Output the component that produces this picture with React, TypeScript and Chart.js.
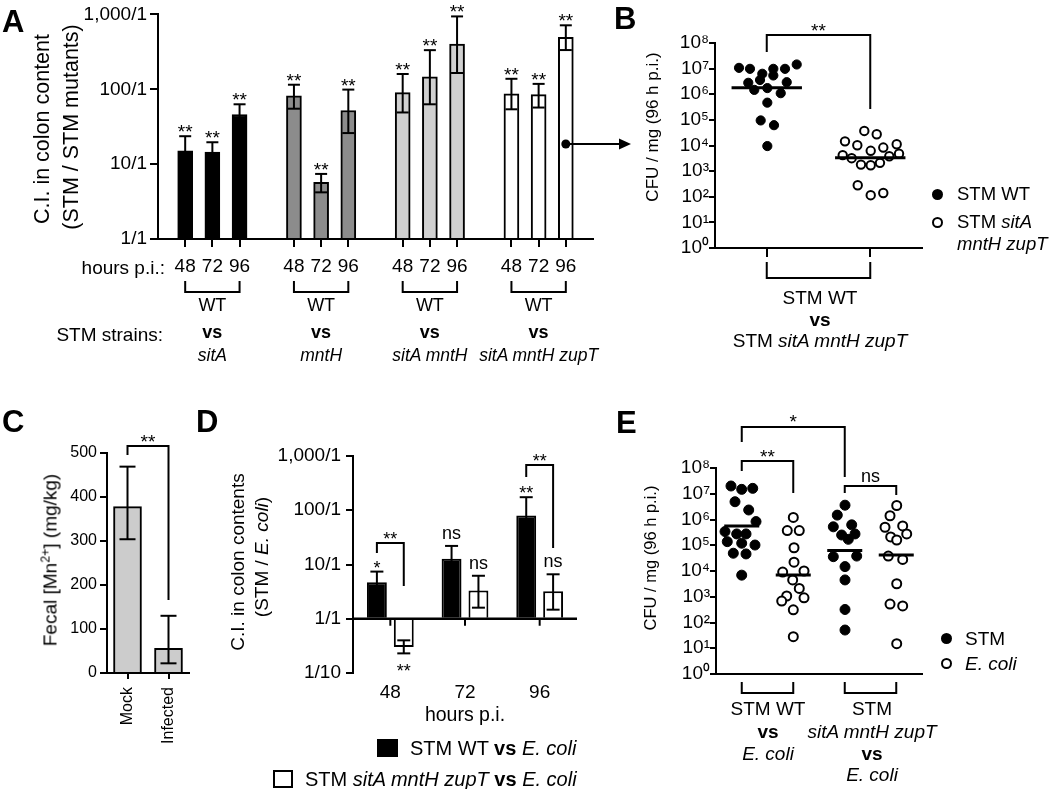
import React, { useEffect, useRef } from 'react';
import { Chart, registerables } from 'chart.js';
Chart.register(...registerables);

const FONT = '"Liberation Sans", Arial, Helvetica, sans-serif';
const W = 1050;
const H = 789;
const BLACK = '#000000';

// ---------------- Panel A ----------------
const A_HOURS = ['48', '72', '96'];
const A_STRAINS = ['sitA', 'mntH', 'sitA mntH', 'sitA mntH zupT'];
const A_POS = [1, 2, 3, 5, 6, 7, 9, 10, 11, 13, 14, 15];
const A_CI = [15, 14.5, 46, 82, 5.7, 52, 90, 147, 400, 87, 85, 495];
const A_LOW = [10, 11, 33, 55, 4.2, 26, 49, 63, 165, 54, 57, 334];
const A_HIGH = [23.6, 19.6, 63, 115, 7.4, 99, 160, 333, 940, 138, 118, 715];
const A_SIG = ['**', '**', '**', '**', '**', '**', '**', '**', '**', '**', '**', '**'];
const A_COLORS = ['#000000', '#8c8c8c', '#d0d0d0', '#ffffff'];
const A_YTICKS = [1, 10, 100, 1000];
const A_YLABELS = ['1/1', '10/1', '100/1', '1,000/1'];

// ---------------- Panel B ----------------
const B_WT = [1.07e7, 9.8e6, 6.3e6, 9.8e6, 5.4e6, 9.8e6, 1.45e7, 2.8e6, 3.6e6, 2.95e6, 1.48e6, 1.74e6, 1.1e6, 4.7e5, 9.5e4, 6.2e4, 9.5e3];
const B_WT_X = [0.464, 0.676, 0.914, 1.127, 1.127, 1.353, 1.579, 0.643, 0.87, 1.386, 0.759, 1.011, 1.27, 1.011, 0.883, 1.14, 1.011];
const B_MUT = [3.7e4, 2.75e4, 1.45e4, 1.02e4, 1.12e4, 8.3e3, 6.2e3, 4.2e3, 3.2e3, 3.8e3, 4.8e3, 1.8e3, 1.7e3, 2.1e3, 2.8e2, 1.15e2, 1.4e2];
const B_MUT_X = [2.885, 3.125, 2.512, 2.75, 3.511, 3.252, 3.009, 2.468, 2.641, 3.368, 3.556, 2.821, 3.009, 3.188, 2.758, 3.009, 3.252];
const B_GROUPS = [1, 3];
const B_MED = [1.8e6, 3.3e3];

// ---------------- Panel C ----------------
const C_LABELS = ['Mock', 'Infected'];
const C_MN = [378, 56];
const C_LOW = [304, 22];
const C_HIGH = [469, 130];

// ---------------- Panel D ----------------
const D_HOURS = ['48', '72', '96'];
const D_WT = [4.7, 12.7, 80];
const D_WT_LOW = [3.2, 8, 40];
const D_WT_HIGH = [7.4, 22, 174];
const D_MUT = [0.3, 3.3, 3.2];
const D_MUT_LOW = [0.23, 1.6, 1.47];
const D_MUT_HIGH = [0.4, 6.2, 6.6];
const D_SIG_WT = ['*', 'ns', '**'];
const D_SIG_MUT = ['**', 'ns', 'ns'];
const D_YTICKS = [0.1, 1, 10, 100, 1000];
const D_YLABELS = ['1/10', '1/1', '10/1', '100/1', '1,000/1'];

// ---------------- Panel E ----------------
const E_WT = [2.0e7, 1.48e7, 1.62e7, 4.9e6, 2.34e6, 8.3e5, 3.4e5, 2.75e5, 2.75e5, 1.38e5, 1.2e5, 1.02e5, 4.9e4, 4.6e4, 6.9e3];
const E_WT_X = [0.291, 0.499, 0.713, 0.369, 0.635, 0.777, 0.175, 0.402, 0.583, 0.219, 0.499, 0.757, 0.336, 0.583, 0.499];
const E_EC1 = [1.2e6, 3.7e5, 3.7e5, 8e4, 2.2e4, 9.1e3, 1.0e4, 4.5e3, 2.1e3, 1.07e3, 6.8e2, 9.1e2, 3.1e2, 28];
const E_EC1_X = [1.501, 1.384, 1.617, 1.515, 1.515, 1.295, 1.709, 1.489, 1.617, 1.373, 1.276, 1.709, 1.501, 1.501];
const E_MUT = [3.6e6, 1.48e6, 6.2e5, 5.2e5, 2.75e5, 2.5e5, 1.7e5, 3.6e4, 3.8e4, 1.48e4, 4.5e3, 3.2e2, 51];
const E_MUT_X = [2.505, 2.355, 2.635, 2.278, 2.699, 2.44, 2.569, 2.278, 2.732, 2.505, 2.505, 2.505, 2.505];
const E_EC2 = [3.5e6, 1.4e6, 5.6e5, 5.0e5, 2.75e5, 2.1e5, 1.6e5, 3.8e4, 2.8e4, 3.2e3, 5.2e2, 4.4e2, 15];
const E_EC2_X = [3.509, 3.379, 3.625, 3.282, 3.703, 3.392, 3.509, 3.346, 3.625, 3.509, 3.379, 3.625, 3.509];
const E_COLS = [0.5, 1.5, 2.5, 3.5];
const E_MED = [5.6e5, 7e3, 6.2e4, 4.2e4];

const CFU_YTICKS = [1, 10, 100, 1e3, 1e4, 1e5, 1e6, 1e7, 1e8];
const CFU_YLABELS = ['10⁰', '10¹', '10²', '10³', '10⁴', '10⁵', '10⁶', '10⁷', '10⁸'];

// ---------------- helpers ----------------
function stroke(ctx: any, pts: number[][], w = 2) {
  ctx.beginPath();
  pts.forEach(([x, y], i) => (i ? ctx.lineTo(x, y) : ctx.moveTo(x, y)));
  ctx.lineWidth = w;
  ctx.strokeStyle = BLACK;
  ctx.lineCap = 'butt';
  ctx.lineJoin = 'miter';
  ctx.stroke();
}
function errBar(ctx: any, x: number, yLo: number, yHi: number, cap: number) {
  stroke(ctx, [[x, yLo], [x, yHi]]);
  stroke(ctx, [[x - cap / 2, yHi], [x + cap / 2, yHi]]);
  stroke(ctx, [[x - cap / 2, yLo], [x + cap / 2, yLo]]);
}
function label(ctx: any, s: string, x: number, yBase: number, size: number) {
  ctx.font = `${size}px ${FONT}`;
  ctx.fillStyle = BLACK;
  ctx.textAlign = 'center';
  ctx.textBaseline = 'alphabetic';
  ctx.fillText(s, x, yBase);
}
function sigAbove(ctx: any, s: string, x: number, y: number, size: number) {
  const star = s.indexOf('*') >= 0;
  label(ctx, s, x, star ? y + 2 : y - 7, size);
}
function bracketDown(ctx: any, x1: number, x2: number, yTop: number, yL: number, yR: number) {
  stroke(ctx, [[x1, yL], [x1, yTop], [x2, yTop], [x2, yR]]);
}
function bracketUp(ctx: any, x1: number, x2: number, yTop: number, yBot: number) {
  stroke(ctx, [[x1, yTop], [x1, yBot], [x2, yBot], [x2, yTop]]);
}

function baseOptions(l: number, r: number, t: number, b: number, yW: number, xH: number) {
  return {
    responsive: false,
    maintainAspectRatio: false,
    animation: false,
    events: [],
    layout: { padding: { left: l - yW, right: W - r, top: t, bottom: H - b - xH } },
    plugins: { legend: { display: false }, tooltip: { enabled: false }, title: { display: false } },
  };
}
function logY(min: number, max: number, ticks: number[], labels: string[], yW: number, size: number, tickLen: number, pad: number) {
  return {
    type: 'logarithmic',
    min,
    max,
    afterBuildTicks: (s: any) => {
      s.ticks = ticks.map((v) => ({ value: v }));
    },
    afterFit: (s: any) => {
      s.width = yW;
    },
    grid: { display: true, drawOnChartArea: false, drawTicks: true, tickLength: tickLen, color: BLACK, lineWidth: 2 },
    border: { display: true, color: BLACK, width: 2 },
    ticks: {
      color: BLACK,
      autoSkip: false,
      font: { family: FONT, size },
      padding: pad,
      callback: (v: number) => {
        let best = 0;
        ticks.forEach((t, i) => {
          if (Math.abs(Math.log10(t) - Math.log10(v)) < Math.abs(Math.log10(ticks[best]) - Math.log10(v))) best = i;
        });
        return labels[best];
      },
    },
  };
}

// ---------------- chart configs ----------------
function makeA() {
  return {
    type: 'bar',
    data: {
      datasets: [
        {
          data: A_POS.map((x, i) => ({ x, y: A_CI[i] })),
          backgroundColor: A_POS.map((_, i) => A_COLORS[Math.floor(i / 3)]),
          borderColor: BLACK,
          borderWidth: 2,
          borderSkipped: 'start',
          barThickness: 15,
          base: 1,
        },
      ],
    },
    options: {
      ...baseOptions(158, 593, 12, 239, 100, 40),
      scales: {
        x: {
          type: 'linear',
          min: 0,
          max: 16,
          offset: false,
          afterBuildTicks: (s: any) => {
            s.ticks = A_POS.map((v) => ({ value: v }));
          },
          afterFit: (s: any) => {
            s.height = 40;
          },
          grid: { display: true, drawOnChartArea: false, drawTicks: true, tickLength: 8, color: BLACK, lineWidth: 2, offset: false },
          border: { display: true, color: BLACK, width: 2 },
          ticks: {
            color: BLACK,
            autoSkip: false,
            maxRotation: 0,
            font: { family: FONT, size: 19 },
            padding: 8,
            callback: (_v: number, i: number) => A_HOURS[i % 3],
          },
        },
        y: logY(1, 1000, A_YTICKS, A_YLABELS, 100, 19, 8, 3),
      },
    },
    plugins: [
      {
        id: 'annA',
        afterDatasetsDraw(chart: any) {
          const ctx = chart.ctx;
          const ys = chart.scales.y;
          const bars = chart.getDatasetMeta(0).data;
          ctx.save();
          bars.forEach((bar: any, i: number) => {
            const yHi = ys.getPixelForValue(A_HIGH[i]);
            errBar(ctx, bar.x, ys.getPixelForValue(A_LOW[i]), yHi, 12);
            sigAbove(ctx, A_SIG[i], bar.x, yHi, 19);
          });
          for (let g = 0; g < 4; g++) {
            bracketUp(ctx, bars[g * 3].x, bars[g * 3 + 2].x, 281, 292);
          }
          // arrow to panel B
          const bx = bars[bars.length - 1].x;
          const ay = 144;
          ctx.beginPath();
          ctx.arc(bx, ay, 4.5, 0, Math.PI * 2);
          ctx.fillStyle = BLACK;
          ctx.fill();
          stroke(ctx, [[bx, ay], [621, ay]]);
          ctx.beginPath();
          ctx.moveTo(631, ay);
          ctx.lineTo(619, ay - 5.5);
          ctx.lineTo(619, ay + 5.5);
          ctx.closePath();
          ctx.fill();
          ctx.restore();
        },
      },
    ],
  };
}

function scatterSets(groups: { xs: number[]; ys: number[]; filled: boolean; r: number }[], meds: { c: number; v: number; hw: number }[]) {
  const lines = meds.map((m) => ({
    data: [
      { x: m.c - m.hw, y: m.v },
      { x: m.c + m.hw, y: m.v },
    ],
    showLine: true,
    borderColor: BLACK,
    borderWidth: 3,
    pointRadius: 0,
  }));
  const pts = groups.map((g) => ({
    data: g.xs.map((x, i) => ({ x, y: g.ys[i] })),
    showLine: false,
    pointRadius: g.r,
    pointBackgroundColor: g.filled ? BLACK : '#ffffff',
    pointBorderColor: BLACK,
    pointBorderWidth: g.filled ? 1 : 2,
  }));
  return [...lines, ...pts];
}

function makeB() {
  return {
    type: 'scatter',
    data: {
      datasets: scatterSets(
        [
          { xs: B_WT_X, ys: B_WT, filled: true, r: 4.6 },
          { xs: B_MUT_X, ys: B_MUT, filled: false, r: 4.2 },
        ],
        B_GROUPS.map((c, i) => ({ c, v: B_MED[i], hw: 0.68 }))
      ),
    },
    options: {
      ...baseOptions(715, 922, 43, 248, 70, 30),
      scales: {
        x: {
          type: 'linear',
          min: 0,
          max: 4,
          afterBuildTicks: (s: any) => {
            s.ticks = B_GROUPS.map((v) => ({ value: v }));
          },
          afterFit: (s: any) => {
            s.height = 30;
          },
          grid: { display: true, drawOnChartArea: false, drawTicks: true, tickLength: 9, color: BLACK, lineWidth: 2 },
          border: { display: true, color: BLACK, width: 2 },
          ticks: { callback: () => '', font: { family: FONT, size: 10 } },
        },
        y: logY(1, 1e8, CFU_YTICKS, CFU_YLABELS, 70, 19, 6, 0),
      },
    },
    plugins: [
      {
        id: 'annB',
        afterDatasetsDraw(chart: any) {
          const ctx = chart.ctx;
          const xs = chart.scales.x;
          const x1 = xs.getPixelForValue(B_GROUPS[0]);
          const x2 = xs.getPixelForValue(B_GROUPS[1]);
          ctx.save();
          bracketDown(ctx, x1, x2, 35, 52, 109);
          label(ctx, '**', (x1 + x2) / 2, 37, 19);
          bracketUp(ctx, x1, x2, 262, 278);
          ctx.restore();
        },
      },
    ],
  };
}

function makeC() {
  return {
    type: 'bar',
    data: {
      labels: C_LABELS,
      datasets: [
        {
          data: C_MN,
          backgroundColor: '#cccccc',
          borderColor: BLACK,
          borderWidth: 2,
          borderSkipped: 'start',
          barThickness: 28,
        },
      ],
    },
    options: {
      ...baseOptions(107, 189, 453, 673, 70, 70),
      scales: {
        x: {
          type: 'category',
          offset: true,
          afterFit: (s: any) => {
            s.height = 70;
          },
          grid: { display: true, drawOnChartArea: false, drawTicks: true, tickLength: 6, color: BLACK, lineWidth: 2, offset: false },
          border: { display: true, color: BLACK, width: 2 },
          ticks: { color: BLACK, minRotation: 90, maxRotation: 90, autoSkip: false, font: { family: FONT, size: 16 }, padding: 8 },
        },
        y: {
          type: 'linear',
          min: 0,
          max: 500,
          afterFit: (s: any) => {
            s.width = 70;
          },
          grid: { display: true, drawOnChartArea: false, drawTicks: true, tickLength: 7, color: BLACK, lineWidth: 2 },
          border: { display: true, color: BLACK, width: 2 },
          ticks: { color: BLACK, stepSize: 100, font: { family: FONT, size: 16 }, padding: 3 },
        },
      },
    },
    plugins: [
      {
        id: 'annC',
        afterDatasetsDraw(chart: any) {
          const ctx = chart.ctx;
          const ys = chart.scales.y;
          const bars = chart.getDatasetMeta(0).data;
          ctx.save();
          bars.forEach((bar: any, i: number) => {
            errBar(ctx, bar.x, ys.getPixelForValue(C_LOW[i]), ys.getPixelForValue(C_HIGH[i]), 16);
          });
          bracketDown(ctx, bars[0].x, bars[1].x, 446, 455, 600);
          label(ctx, '**', (bars[0].x + bars[1].x) / 2, 448, 19);
          ctx.restore();
        },
      },
    ],
  };
}

function makeD() {
  return {
    type: 'bar',
    data: {
      labels: D_HOURS,
      datasets: [
        {
          data: D_WT,
          backgroundColor: BLACK,
          borderColor: BLACK,
          borderWidth: 2,
          borderSkipped: 'start',
          base: 1,
          categoryPercentage: 0.72,
          barPercentage: 0.74,
        },
        {
          data: D_MUT,
          backgroundColor: '#ffffff',
          borderColor: BLACK,
          borderWidth: 2,
          borderSkipped: 'start',
          base: 1,
          categoryPercentage: 0.72,
          barPercentage: 0.74,
        },
      ],
    },
    options: {
      ...baseOptions(353, 577, 456, 673, 90, 40),
      scales: {
        x: {
          type: 'category',
          offset: true,
          afterFit: (s: any) => {
            s.height = 40;
          },
          grid: { display: false },
          border: { display: false },
          ticks: { color: BLACK, font: { family: FONT, size: 19 }, padding: 0 },
        },
        y: logY(0.1, 1000, D_YTICKS, D_YLABELS, 90, 19, 7, 5),
      },
    },
    plugins: [
      {
        id: 'annD',
        afterDatasetsDraw(chart: any) {
          const ctx = chart.ctx;
          const xs = chart.scales.x;
          const ys = chart.scales.y;
          const a = chart.chartArea;
          const m0 = chart.getDatasetMeta(0).data;
          const m1 = chart.getDatasetMeta(1).data;
          ctx.save();
          const y1 = ys.getPixelForValue(1);
          stroke(ctx, [[a.left - 1, y1], [a.right, y1]], 2.5);
          D_HOURS.forEach((_, i) => {
            const x = xs.getPixelForValue(i);
            stroke(ctx, [[x, y1], [x, y1 + 7]]);
          });
          D_HOURS.forEach((_, i) => {
            errBar(ctx, m0[i].x, ys.getPixelForValue(D_WT_LOW[i]), ys.getPixelForValue(D_WT_HIGH[i]), 13);
            errBar(ctx, m1[i].x, ys.getPixelForValue(D_MUT_LOW[i]), ys.getPixelForValue(D_MUT_HIGH[i]), 13);
            sigAbove(ctx, D_SIG_WT[i], m0[i].x, ys.getPixelForValue(D_WT_HIGH[i]), 18);
            if (D_MUT[i] < 1) {
              label(ctx, D_SIG_MUT[i], m1[i].x, ys.getPixelForValue(D_MUT_LOW[i]) + 24, 18);
            } else {
              sigAbove(ctx, D_SIG_MUT[i], m1[i].x, ys.getPixelForValue(D_MUT_HIGH[i]), 18);
            }
          });
          bracketDown(ctx, m0[0].x, m1[0].x, 543, 553, 586);
          label(ctx, '**', (m0[0].x + m1[0].x) / 2, 545, 18);
          bracketDown(ctx, m0[2].x, m1[2].x, 465, 477, 548);
          label(ctx, '**', (m0[2].x + m1[2].x) / 2, 467, 18);
          ctx.restore();
        },
      },
    ],
  };
}

function makeE() {
  return {
    type: 'scatter',
    data: {
      datasets: scatterSets(
        [
          { xs: E_WT_X, ys: E_WT, filled: true, r: 5 },
          { xs: E_EC1_X, ys: E_EC1, filled: false, r: 4.5 },
          { xs: E_MUT_X, ys: E_MUT, filled: true, r: 5 },
          { xs: E_EC2_X, ys: E_EC2, filled: false, r: 4.5 },
        ],
        E_COLS.map((c, i) => ({ c, v: E_MED[i], hw: 0.34 }))
      ),
    },
    options: {
      ...baseOptions(716, 922, 468, 674, 70, 20),
      scales: {
        x: {
          type: 'linear',
          min: 0,
          max: 4,
          afterFit: (s: any) => {
            s.height = 20;
          },
          grid: { display: false },
          border: { display: true, color: BLACK, width: 2 },
          ticks: { callback: () => '', font: { family: FONT, size: 10 } },
        },
        y: logY(1, 1e8, CFU_YTICKS, CFU_YLABELS, 70, 19, 6, 0),
      },
    },
    plugins: [
      {
        id: 'annE',
        afterDatasetsDraw(chart: any) {
          const ctx = chart.ctx;
          const xs = chart.scales.x;
          const p = E_COLS.map((c) => xs.getPixelForValue(c));
          ctx.save();
          bracketDown(ctx, p[0], p[2], 427, 442, 477);
          label(ctx, '*', (p[0] + p[2]) / 2, 428, 19);
          bracketDown(ctx, p[0], p[1], 461, 471, 493);
          label(ctx, '**', (p[0] + p[1]) / 2, 463, 19);
          bracketDown(ctx, p[2], p[3], 486, 493, 495);
          label(ctx, 'ns', (p[2] + p[3]) / 2, 482, 18);
          bracketUp(ctx, p[0], p[1], 682, 693);
          bracketUp(ctx, p[2], p[3], 682, 693);
          ctx.restore();
        },
      },
    ],
  };
}

// ---------------- React ----------------
function ChartLayer({ make }: { make: () => any }) {
  const ref = useRef<HTMLCanvasElement>(null);
  useEffect(() => {
    const chart = new Chart(ref.current as HTMLCanvasElement, make());
    return () => chart.destroy();
  }, []);
  return <canvas ref={ref} width={W} height={H} style={{ position: 'absolute', left: 0, top: 0, width: W, height: H }} />;
}

type TP = { x: number; y: number; s: number; a?: 'l' | 'c' | 'r'; b?: boolean; i?: boolean; children: any };
function T({ x, y, s, a = 'l', b, i, children }: TP) {
  const tx = a === 'c' ? -50 : a === 'r' ? -100 : 0;
  return (
    <div
      style={{
        position: 'absolute',
        left: x,
        top: y - s / 2,
        fontSize: s,
        lineHeight: `${s}px`,
        whiteSpace: 'nowrap',
        fontWeight: b ? 700 : 400,
        fontStyle: i ? 'italic' : 'normal',
        transform: `translateX(${tx}%)`,
      }}
    >
      {children}
    </div>
  );
}
function R({ x, y, s, children }: { x: number; y: number; s: number; children: any }) {
  return (
    <div
      style={{
        position: 'absolute',
        left: x,
        top: y,
        fontSize: s,
        lineHeight: `${s}px`,
        whiteSpace: 'nowrap',
        transform: 'translate(-50%,-50%) rotate(-90deg)',
      }}
    >
      {children}
    </div>
  );
}
function Dot({ x, y, r, filled }: { x: number; y: number; r: number; filled: boolean }) {
  return (
    <div
      style={{
        position: 'absolute',
        left: x - r,
        top: y - r,
        width: 2 * r,
        height: 2 * r,
        borderRadius: '50%',
        boxSizing: 'border-box',
        background: filled ? BLACK : '#fff',
        border: filled ? 'none' : `2px solid ${BLACK}`,
      }}
    />
  );
}
function Box({ x, y, w, h, filled }: { x: number; y: number; w: number; h: number; filled: boolean }) {
  return (
    <div
      style={{
        position: 'absolute',
        left: x,
        top: y,
        width: w,
        height: h,
        boxSizing: 'border-box',
        background: filled ? BLACK : '#fff',
        border: `2.5px solid ${BLACK}`,
      }}
    />
  );
}

export default function App() {
  const aGroupX = [0, 1, 2, 3].map((g) => 158 + ((2 + 4 * g) / 16) * 435);
  return (
    <div
      style={{
        position: 'absolute',
        left: 0,
        top: 0,
        width: W,
        height: H,
        overflow: 'hidden',
        background: '#fff',
        color: BLACK,
        fontFamily: FONT,
      }}
    >
      <ChartLayer make={makeA} />
      <ChartLayer make={makeB} />
      <ChartLayer make={makeC} />
      <ChartLayer make={makeD} />
      <ChartLayer make={makeE} />

      {/* panel letters */}
      <T x={2} y={21} s={31} b>A</T>
      <T x={614} y={18} s={31} b>B</T>
      <T x={2} y={421} s={31} b>C</T>
      <T x={196} y={421} s={31} b>D</T>
      <T x={616} y={422} s={31} b>E</T>

      {/* Panel A text */}
      <R x={43} y={129} s={21.5}>C.I. in colon content</R>
      <R x={72} y={127} s={21.5}>(STM / STM mutants)</R>
      <T x={165} y={267} s={19} a="r">hours p.i.:</T>
      <T x={163} y={334} s={19} a="r">STM strains:</T>
      {A_STRAINS.map((st, g) => (
        <React.Fragment key={st}>
          <T x={aGroupX[g]} y={305} s={18} a="c">WT</T>
          <T x={aGroupX[g]} y={332} s={18} a="c" b>vs</T>
          <T x={aGroupX[g]} y={356} s={17.5} a="c" i>{st}</T>
        </React.Fragment>
      ))}

      {/* Panel B text */}
      <R x={652} y={127} s={17}>CFU / mg (96 h p.i.)</R>
      <T x={820} y={297} s={19} a="c">STM WT</T>
      <T x={820} y={319} s={19} a="c" b>vs</T>
      <T x={820} y={340} s={19} a="c">STM <i>sitA mntH zupT</i></T>
      <Dot x={937} y={194} r={5.5} filled />
      <Dot x={937} y={222} r={5.5} filled={false} />
      <T x={957} y={194} s={18.5}>STM WT</T>
      <T x={957} y={222} s={18.5}>STM <i>sitA</i></T>
      <T x={957} y={244} s={18.5} i>mntH zupT</T>

      {/* Panel C text */}
      <R x={50} y={560} s={19}>
        Fecal [Mn<sup style={{ fontSize: '0.65em', lineHeight: 0 }}>2+</sup>] (mg/kg)
      </R>

      {/* Panel D text */}
      <R x={237} y={562} s={19}>C.I. in colon contents</R>
      <R x={261} y={557} s={19}>
        (STM / <i>E. coli</i>)
      </R>
      <T x={465} y={715} s={19.5} a="c">hours p.i.</T>
      <Box x={377} y={739} w={21} h={18} filled />
      <T x={410} y={748} s={20}>
        STM WT <b>vs</b> <i>E. coli</i>
      </T>
      <Box x={273} y={770} w={20} h={18} filled={false} />
      <T x={305} y={779} s={20}>
        STM <i>sitA mntH zupT</i> <b>vs</b> <i>E. coli</i>
      </T>

      {/* Panel E text */}
      <R x={650} y={558} s={16.5}>CFU / mg (96 h p.i.)</R>
      <T x={768} y={708} s={19} a="c">STM WT</T>
      <T x={768} y={731} s={19} a="c" b>vs</T>
      <T x={768} y={753} s={19} a="c" i>E. coli</T>
      <T x={872} y={708} s={19} a="c">STM</T>
      <T x={872} y={731} s={19} a="c" i>sitA mntH zupT</T>
      <T x={872} y={753} s={19} a="c" b>vs</T>
      <T x={872} y={774} s={19} a="c" i>E. coli</T>
      <Dot x={946} y={638} r={5.5} filled />
      <Dot x={946} y={663} r={5.5} filled={false} />
      <T x={965} y={638} s={19}>STM</T>
      <T x={965} y={663} s={19} i>E. coli</T>
    </div>
  );
}
